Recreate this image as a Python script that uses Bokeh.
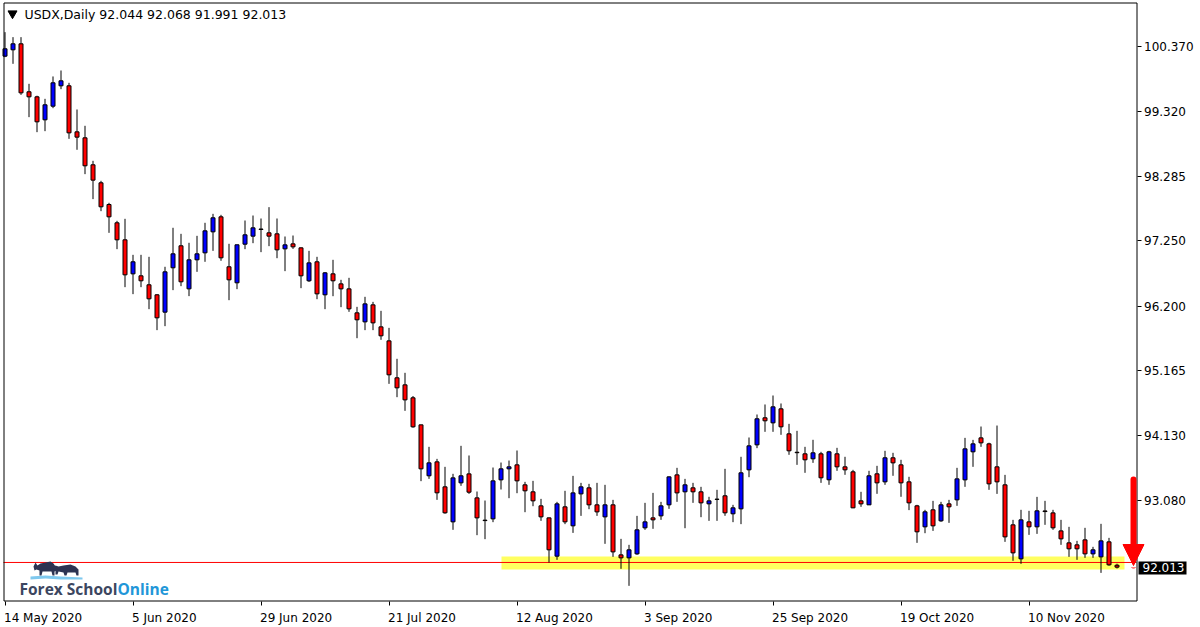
import pandas as pd
from bokeh.plotting import figure
from bokeh.models import (Range1d, FixedTicker, Label, BoxAnnotation,
                          Arrow, NormalHead, ColumnDataSource)
from bokeh.core.properties import value
from bokeh.embed import file_html
from bokeh.resources import INLINE

# ---------------- data ----------------
symbol = "USDX"
timeframe = "Daily"
first_date = "2020-05-14"

open_ = [100.215, 100.317, 100.413, 99.643, 99.562, 99.193, 99.412, 99.739, 99.739, 99.000,
         98.904, 98.471, 98.182, 97.834, 97.540, 97.267, 96.721, 96.689, 96.545, 96.384,
         96.106, 96.818, 97.171, 96.480, 96.946, 97.058, 97.395, 97.636, 96.834, 96.577,
         97.197, 97.326, 97.433, 97.379, 97.363, 97.122, 97.202, 97.138, 96.609, 96.914,
         96.384, 96.721, 96.560, 96.480, 96.095, 95.950, 96.223, 95.870, 95.645, 95.052,
         94.939, 94.731, 94.297, 93.479, 93.703, 93.302, 92.740, 93.366, 93.510, 93.125,
         92.767, 92.788, 93.414, 93.591, 93.655, 93.334, 93.222, 92.997, 92.804, 92.189,
         92.981, 92.676, 93.189, 93.286, 93.013, 92.820, 93.013, 92.210, 92.162, 92.226,
         92.644, 92.804, 92.836, 93.013, 93.494, 93.222, 93.286, 93.222, 93.029, 93.104,
         93.158, 92.869, 92.949, 93.575, 93.976, 94.410, 94.329, 94.554, 94.153, 93.857,
         93.832, 93.752, 93.832, 93.415, 93.832, 93.623, 93.543, 93.077, 93.013, 93.511,
         93.382, 93.768, 93.655, 93.382, 92.997, 92.660, 92.933, 92.756, 93.029, 93.093,
         93.414, 93.864, 94.088, 93.992, 93.623, 93.334, 92.692, 92.146, 92.740, 92.660,
         92.915, 92.884, 92.595, 92.403, 92.371, 92.451, 92.226, 92.178, 92.419, 92.044]
high = [100.600, 100.520, 100.520, 99.771, 99.580, 99.530, 99.889, 99.985, 99.787, 99.359,
        99.097, 98.535, 98.214, 97.861, 97.572, 97.604, 97.026, 97.026, 96.994, 96.395,
        96.834, 97.460, 97.363, 97.219, 97.331, 97.540, 97.684, 97.668, 97.203, 97.190,
        97.577, 97.657, 97.609, 97.791, 97.609, 97.320, 97.336, 97.145, 97.090, 96.994,
        96.750, 96.946, 96.625, 96.657, 96.191, 96.352, 96.271, 96.127, 95.854, 95.357,
        95.132, 94.760, 94.300, 93.944, 93.751, 93.623, 93.511, 93.960, 93.805, 93.227,
        93.082, 93.612, 93.692, 93.724, 93.885, 93.382, 93.398, 93.109, 92.810, 93.061,
        93.238, 93.478, 93.366, 93.350, 93.366, 93.334, 93.093, 92.467, 92.371, 92.836,
        93.045, 93.205, 93.061, 93.470, 93.607, 93.430, 93.366, 93.302, 93.142, 93.254,
        93.591, 93.013, 93.784, 94.094, 94.463, 94.624, 94.768, 94.640, 94.313, 94.201,
        93.944, 94.057, 93.864, 93.880, 93.928, 93.784, 93.575, 93.222, 93.559, 93.639,
        93.880, 93.848, 93.736, 93.463, 93.013, 92.933, 93.077, 93.061, 93.093, 93.607,
        94.088, 94.056, 94.270, 94.010, 94.286, 93.494, 92.772, 92.933, 92.917, 93.141,
        93.077, 92.933, 92.772, 92.660, 92.435, 92.644, 92.339, 92.708, 92.483, 92.068]
low = [100.199, 100.092, 99.594, 99.236, 98.995, 99.011, 99.380, 99.685, 98.888, 98.712,
       98.321, 97.920, 97.727, 97.379, 97.117, 96.507, 96.395, 96.507, 96.154, 95.817,
       95.881, 96.459, 96.523, 96.363, 96.753, 96.914, 97.090, 96.930, 96.298, 96.475,
       97.117, 97.213, 97.069, 97.165, 96.972, 96.764, 97.122, 96.491, 96.590, 96.314,
       96.154, 96.362, 96.186, 96.111, 95.688, 95.817, 95.817, 95.662, 94.955, 94.741,
       94.522, 94.250, 93.393, 93.430, 93.093, 92.870, 92.612, 93.318, 93.189, 92.526,
       92.462, 92.735, 93.259, 93.120, 93.200, 92.895, 92.991, 92.756, 92.087, 92.130,
       92.703, 92.563, 92.836, 92.943, 92.836, 92.387, 92.178, 91.986, 91.713, 92.210,
       92.612, 92.628, 92.772, 92.949, 93.061, 92.638, 93.045, 92.815, 92.756, 92.756,
       92.837, 92.735, 92.703, 93.457, 93.923, 94.185, 94.185, 94.137, 93.816, 93.655,
       93.527, 93.687, 93.366, 93.334, 93.559, 93.495, 92.960, 92.981, 93.010, 93.190,
       93.334, 93.479, 93.142, 92.928, 92.403, 92.558, 92.595, 92.740, 92.724, 92.997,
       93.302, 93.623, 93.944, 93.254, 93.189, 92.419, 92.114, 92.066, 92.531, 92.547,
       92.692, 92.612, 92.371, 92.178, 92.130, 92.162, 92.162, 91.921, 92.034, 91.991]
close = [100.333, 100.413, 99.626, 99.562, 99.161, 99.434, 99.787, 99.819, 98.984, 98.915,
         98.455, 98.225, 97.797, 97.636, 97.267, 96.705, 96.914, 96.609, 96.320, 96.015,
         96.753, 97.042, 96.593, 96.946, 97.042, 97.411, 97.620, 96.978, 96.625, 97.187,
         97.347, 97.459, 97.440, 97.326, 97.106, 97.186, 97.154, 96.689, 96.897, 96.400,
         96.737, 96.609, 96.480, 96.159, 95.983, 96.239, 95.934, 95.726, 95.100, 94.891,
         94.698, 94.265, 93.591, 93.687, 93.206, 92.885, 93.446, 93.479, 93.216, 92.804,
         92.760, 93.398, 93.591, 93.623, 93.398, 93.238, 93.077, 92.820, 92.291, 93.029,
         92.740, 93.205, 93.302, 93.013, 92.900, 93.013, 92.258, 92.162, 92.291, 92.612,
         92.740, 92.772, 92.997, 93.462, 93.205, 93.334, 93.222, 93.045, 93.077, 93.100,
         92.885, 92.965, 93.527, 93.960, 94.394, 94.362, 94.586, 94.265, 93.880, 93.850,
         93.736, 93.848, 93.447, 93.864, 93.623, 93.575, 92.965, 93.029, 93.479, 93.366,
         93.768, 93.687, 93.366, 93.045, 92.580, 92.901, 92.676, 93.013, 92.981, 93.430,
         93.912, 93.992, 94.008, 93.350, 93.382, 92.499, 92.242, 92.772, 92.660, 92.917,
         92.905, 92.644, 92.467, 92.307, 92.307, 92.226, 92.291, 92.435, 92.050, 92.013]

price_ticks = [100.370, 99.320, 98.285, 97.250, 96.200, 95.165, 94.130, 93.080]
price_tick_labels = ["100.370", "99.320", "98.285", "97.250", "96.200",
                     "95.165", "94.130", "93.080"]
date_tick_labels = ["14 May 2020", "5 Jun 2020", "29 Jun 2020", "21 Jul 2020",
                    "12 Aug 2020", "3 Sep 2020", "25 Sep 2020", "19 Oct 2020",
                    "10 Nov 2020"]

# chart annotations (price levels)
support_top = 92.184
support_bottom = 91.975
support_line = 92.088
arrow_top = 93.420
arrow_tip = 92.039

# ---------------- pixel layout of the MT4 screen ----------------
W, H = 1200, 625
PX_PER_BAR = 8.0
PX_PER_UNIT = 62.3


def X(px):
    return (px - 4.5) / PX_PER_BAR


def Y(py):
    return 100.370 - (py - 46.0) / PX_PER_UNIT


dates = pd.bdate_range(first_date, periods=len(close))
idx = list(range(len(close)))
tick_idx = [int(dates.get_loc(pd.to_datetime(s, format="%d %b %Y")))
            for s in date_tick_labels]

BLUE = "#0000FF"
RED = "#FF0000"
colors = [BLUE if c >= o else RED for o, c in zip(open_, close)]
src = ColumnDataSource(dict(
    x=idx, o=open_, h=high, l=low, c=close,
    top=[max(a, b) for a, b in zip(open_, close)],
    bottom=[min(a, b) for a, b in zip(open_, close)],
    color=colors))

p = figure(width=W, height=H,
           x_range=Range1d(X(0), X(W)), y_range=Range1d(Y(H), Y(0)),
           y_axis_location="right", toolbar_location=None,
           output_backend="svg", min_border=0)
p.background_fill_color = "white"
p.border_fill_color = "white"
p.outline_line_color = None
p.grid.visible = False

# price axis (right edge of the chart window)
p.yaxis.fixed_location = X(1136.5)
p.yaxis.bounds = (Y(600), Y(2))
p.yaxis.ticker = FixedTicker(ticks=price_ticks)
p.yaxis.major_label_overrides = dict(zip(price_ticks, price_tick_labels))
p.yaxis.major_label_text_font = "DejaVu Sans"
p.yaxis.major_label_text_font_size = "12px"
p.yaxis.major_label_text_color = "black"
p.yaxis.major_tick_out = 4
p.yaxis.major_tick_in = 0
p.yaxis.minor_tick_line_color = None
p.yaxis.axis_line_color = None
p.yaxis.major_tick_line_color = "black"
p.yaxis.major_label_standoff = 3

# time axis (bottom edge of the chart window); labels drawn left-aligned below
p.xaxis.fixed_location = Y(600.5)
p.xaxis.bounds = (X(3), X(1136))
p.xaxis.ticker = FixedTicker(ticks=tick_idx)
p.xaxis.major_label_overrides = {t: "" for t in tick_idx}
p.xaxis.major_tick_out = 4
p.xaxis.major_tick_in = 0
p.xaxis.minor_tick_line_color = None
p.xaxis.axis_line_color = None
p.xaxis.major_tick_line_color = "black"
p.text(x=tick_idx, y=[Y(617)] * len(tick_idx), text=date_tick_labels,
       text_font=value("DejaVu Sans"), text_font_size=value("12px"),
       text_color="black", text_baseline="alphabetic", text_align="left",
       x_offset=-1)

# support zone + line
p.quad(left=[X(501)], right=[X(1124)], bottom=[support_bottom], top=[support_top],
       fill_color="#FFFF60", line_color=None)
p.segment(x0=[X(3)], x1=[X(1136)], y0=[support_line], y1=[support_line],
          line_color=RED, line_width=1)

# candles
p.segment(x0="x", y0="l", x1="x", y1="h", source=src, line_color="black",
          line_width=1)
p.vbar(x="x", top="top", bottom="bottom", width=0.5, source=src,
       fill_color="color", line_color="black", line_width=1)

# chart window border
p.add_layout(BoxAnnotation(left=X(3.5), right=X(1136.5), bottom=Y(600.5),
                           top=Y(2.5), fill_alpha=0, line_color="black",
                           line_width=1, line_alpha=1))

# arrow
p.add_layout(Arrow(end=NormalHead(size=21, fill_color=RED, line_color=RED,
                                  line_width=1),
                   x_start=X(1133), y_start=arrow_top, x_end=X(1133),
                   y_end=arrow_tip, line_color=RED, line_width=6,
                   line_cap="round"))

# current price tag
p.quad(left=[X(1138)], right=[X(1186)], bottom=[Y(574)], top=[Y(561)],
       fill_color="black", line_color=None)
p.text(x=[X(1142)], y=[close[-1]], text=["%.3f" % close[-1]],
       text_font=value("DejaVu Sans"), text_font_size=value("12px"),
       text_color="white", text_baseline="middle", text_align="left")

# title text
p.scatter(x=[X(12)], y=[Y(13)], marker="inverted_triangle", size=9,
          fill_color="black", line_color="black")
title = "%s,%s  %.3f %.3f %.3f %.3f" % (symbol, timeframe, open_[-1], high[-1],
                                       low[-1], close[-1])
p.add_layout(Label(x=X(24), y=Y(14), text=title, text_font="DejaVu Sans",
                   text_font_size="12.5px", text_color="black",
                   text_baseline="middle", text_align="left"))

# logo
bull = [(33, 566), (35, 562), (37, 565), (40, 563), (45, 562), (50, 561), (53, 563),
        (55, 566), (56, 570), (54, 571), (54, 575), (52, 575), (51, 571), (42, 571),
        (41, 575), (39, 575), (39, 570), (36, 569), (34, 570)]
bear = [(52, 567), (55, 565), (58, 566), (63, 565), (70, 564), (75, 566), (78, 569),
        (78, 575), (76, 575), (75, 572), (67, 572), (66, 575), (64, 575), (63, 572),
        (58, 571), (57, 574), (55, 574), (55, 570), (52, 569)]
swoosh = [(30, 576), (45, 575), (60, 576), (82, 577), (82, 579), (60, 579),
          (45, 578), (30, 579)]
p.patches(xs=[[X(a) for a, b in poly] for poly in (swoosh, bull, bear)],
          ys=[[Y(b) for a, b in poly] for poly in (swoosh, bull, bear)],
          fill_color=["#7EC8EE", "#2C3352", "#2C3352"], line_color=None)
p.add_layout(Label(x=X(19), y=Y(588), text="Forex School", text_font="Open Sans",
                   text_font_size="15.5px", text_font_style="bold",
                   text_color="#3C4660", text_baseline="middle", text_align="left"))
p.add_layout(Label(x=X(117), y=Y(588), text="Online", text_font="Open Sans",
                   text_font_size="15.5px", text_font_style="bold",
                   text_color="#2196D8", text_baseline="middle", text_align="left"))

open("out.html", "w").write(file_html(p, INLINE))
